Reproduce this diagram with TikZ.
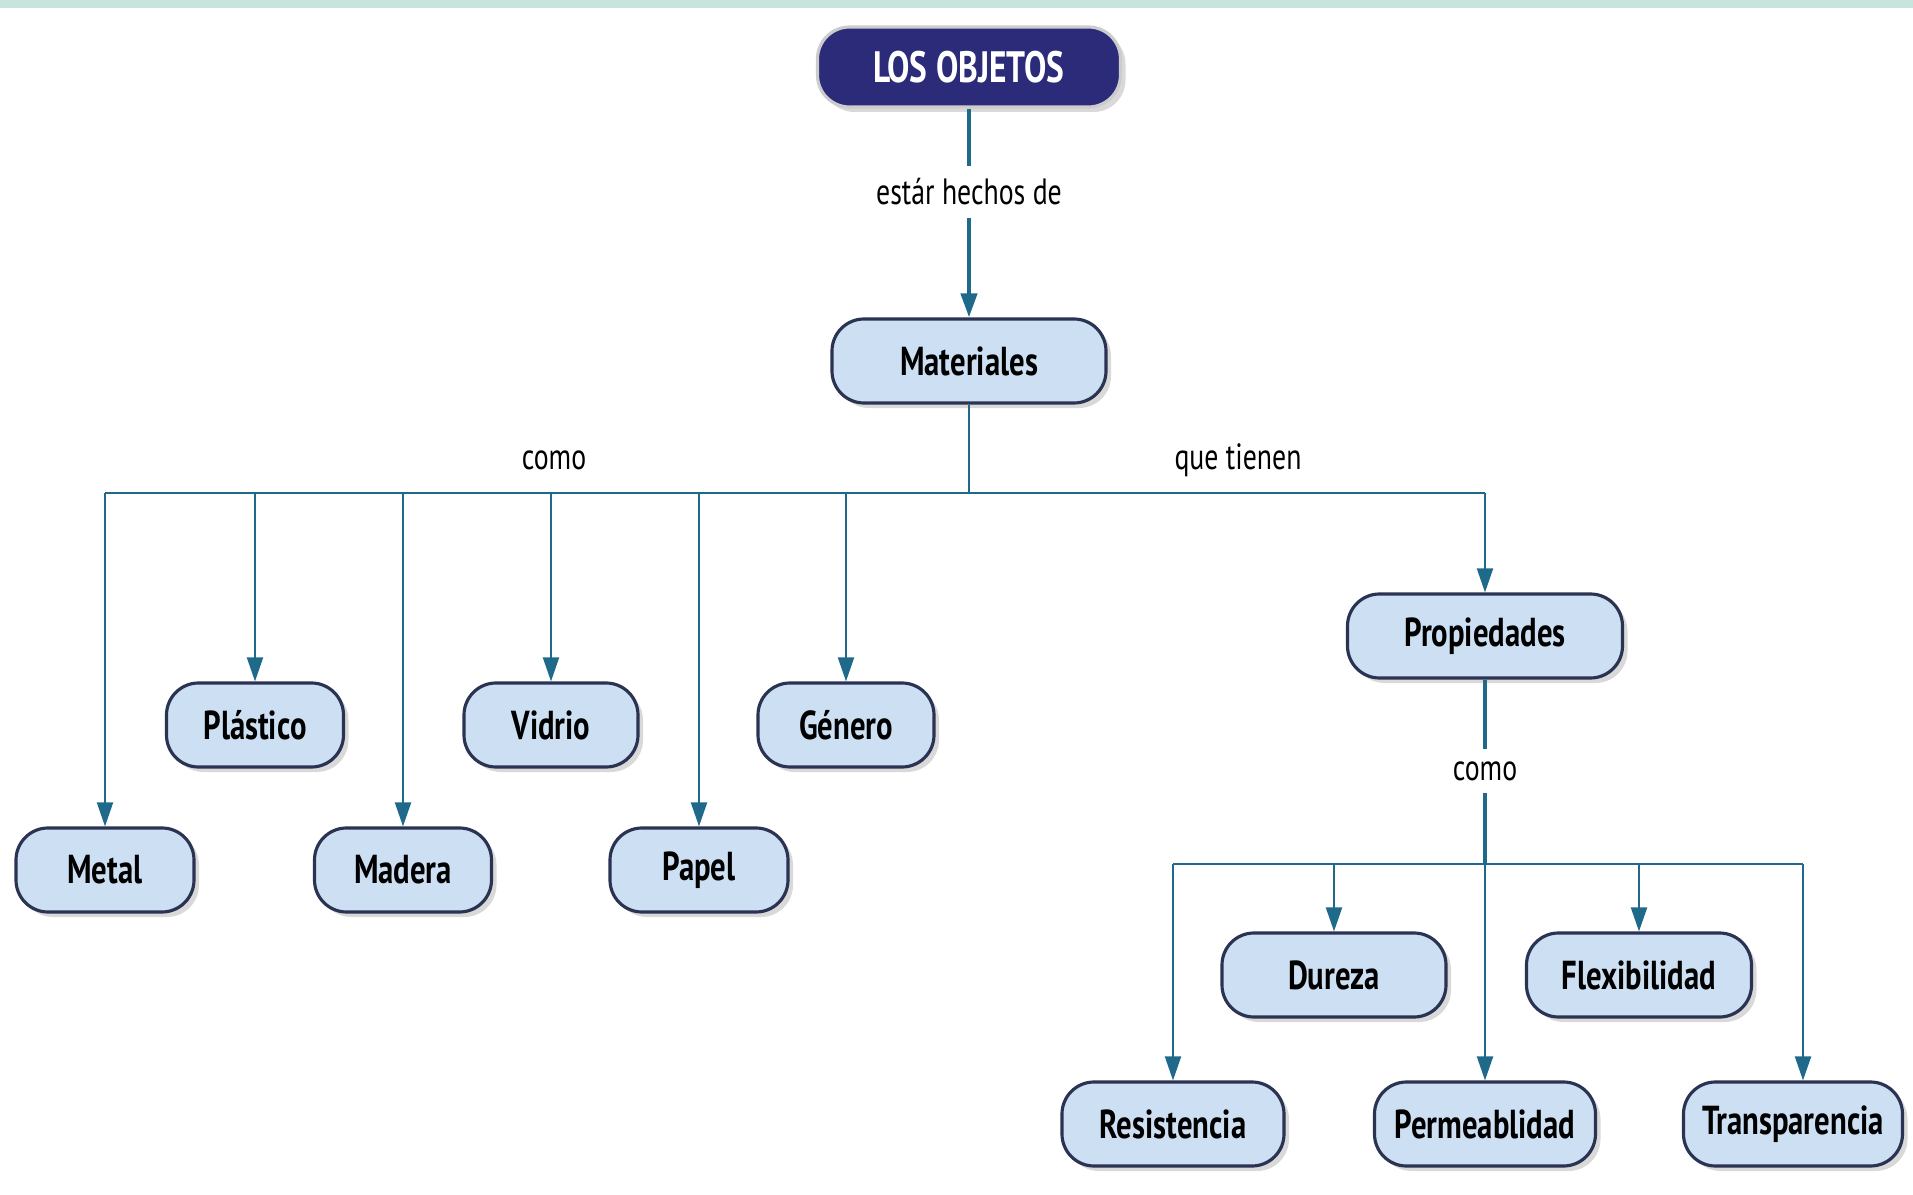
\documentclass[tikz,border=0pt]{standalone}
\usepackage{fontspec}
\setmainfont{PT Sans}[FakeStretch=0.76]
\usepackage{xcolor}
\usetikzlibrary{arrows.meta,shadows,positioning}
\definecolor{boxfill}{HTML}{CCDFF3}
\definecolor{boxline}{HTML}{2B3352}
\definecolor{topfill}{HTML}{2B2B7A}
\definecolor{linkcol}{HTML}{1F6A8A}
\definecolor{stripcol}{HTML}{C8E4DC}
\tikzset{
  concept/.style={
    shape = rectangle,
    rounded corners = 0.32cm,
    draw = boxline,
    line width = 0.9pt,
    fill = boxfill,
    minimum height = 0.84cm,
    inner sep = 0pt,
    font = \fontsize{11.5}{13}\selectfont\bfseries,
    drop shadow = {shadow xshift=0.05cm, shadow yshift=-0.05cm, opacity=0.3}
  },
  topconcept/.style={
    concept,
    draw = gray!40,
    fill = topfill,
    text = white,
    minimum height = 0.8cm,
    font = \fontsize{12.5}{14}\selectfont\bfseries
  },
  linklabel/.style={
    font = \fontsize{10.4}{12}\selectfont,
    inner sep = 0.12cm
  },
  link/.style={
    draw = linkcol,
    line width = 0.6pt
  },
  thicklink/.style={
    draw = linkcol,
    line width = 1.2pt
  },
  tip/.style={
    -{Triangle[width=0.16cm,length=0.24cm]}
  }
}
\begin{document}
\begin{tikzpicture}
        \useasboundingbox (0,0) rectangle (19.13,11.94);
        \fill[stripcol] (0,11.86) rectangle (19.13,11.94);
        \node[topconcept, minimum width=3.03cm] (objetos) at (9.69,11.27) {LOS OBJETOS};
        \node[linklabel] (hechos) at (9.69,10.02) {estár hechos de};
        \node[concept, minimum width=2.74cm] (materiales) at (9.69,8.33) {Materiales};
        \coordinate (bar) at (9.69,7.01);
        \node[linklabel] (como) at (5.54,7.34) {como};
        \node[linklabel] (tienen) at (12.38,7.34) {que tienen};
        \node[concept, minimum width=1.77cm] (plastico) at (2.55,4.69) {Plástico};
        \node[concept, minimum width=1.74cm] (vidrio) at (5.51,4.69) {Vidrio};
        \node[concept, minimum width=1.76cm] (genero) at (8.46,4.69) {Género};
        \node[concept, minimum width=1.78cm] (metal) at (1.05,3.24) {Metal};
        \node[concept, minimum width=1.77cm] (madera) at (4.03,3.24) {Madera};
        \node[concept, minimum width=1.78cm] (papel) at (6.99,3.24) {Papel};
        \node[concept, minimum width=2.75cm] (propiedades) at (14.85,5.58) {Propiedades};
        \node[linklabel] (comodos) at (14.85,4.23) {como};
        \coordinate (bardos) at (14.85,3.30);
        \node[concept, minimum width=2.24cm] (dureza) at (13.34,2.19) {Dureza};
        \node[concept, minimum width=2.25cm] (flexibilidad) at (16.39,2.19) {Flexibilidad};
        \node[concept, minimum width=2.22cm] (resistencia) at (11.73,0.70) {Resistencia};
        \node[concept, minimum width=2.21cm] (permeablidad) at (14.85,0.70) {Permeablidad};
        \node[concept, minimum width=2.19cm] (transparencia) at (17.93,0.70) {Transparencia};
        \coordinate (tdrop) at (18.03,3.30);
        \draw[thicklink] (objetos) -- (hechos);
        \draw[thicklink, tip] (hechos) -- (materiales);
        \draw[link] (materiales) -- (bar);
        \draw[link] (metal |- bar) -- (propiedades |- bar);
        \foreach \n in {metal,plastico,madera,vidrio,papel,genero,propiedades}
            \draw[link, tip] (\n |- bar) -- (\n);
        \draw[thicklink] (propiedades) -- (comodos);
        \draw[thicklink] (comodos) -- (bardos);
        \draw[link] (resistencia |- bardos) -- (tdrop);
        \foreach \n in {resistencia,dureza,permeablidad,flexibilidad}
            \draw[link, tip] (\n |- bardos) -- (\n);
        \draw[link, tip] (tdrop) -- (tdrop |- transparencia.north);
\end{tikzpicture}
\end{document}
